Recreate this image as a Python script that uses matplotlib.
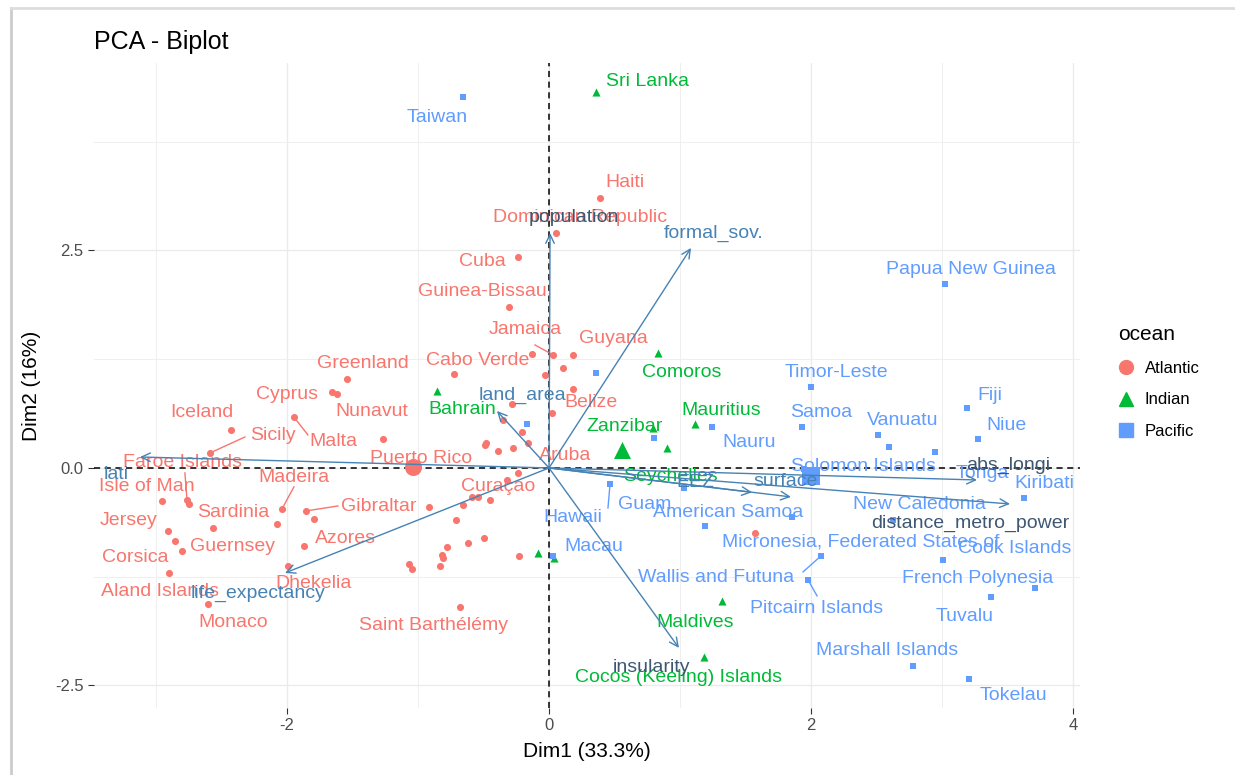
import matplotlib.pyplot as plt
import numpy as np
from matplotlib.lines import Line2D
from matplotlib.patches import FancyArrowPatch

plt.rcParams['font.family'] = ['Liberation Sans', 'DejaVu Sans']
plt.rcParams['axes.unicode_minus'] = False

#Individuals: (name, Dim1, Dim2), '' = unlabeled
atlantic = [
    ('Haiti', 0.389, 3.103), ('Dominican Republic', 0.053, 2.701), ('Cuba', -0.237, 2.425),
    ('Guinea-Bissau', -0.305, 1.851), ('Jamaica', 0.031, 1.299), ('', -0.130, 1.310),
    ('Guyana', 0.183, 1.299), ('', 0.107, 1.149), ('', -0.031, 1.069),
    ('Cabo Verde', -0.725, 1.080), ('Greenland', -1.542, 1.023), ('Cyprus', -1.656, 0.874),
    ('', -1.618, 0.851), ('Belize', 0.183, 0.908), ('', 0.023, 0.632),
    ('', -0.282, 0.736), ('', -0.351, 0.552), ('', -0.206, 0.414),
    ('', -0.160, 0.287), ('', -0.481, 0.287), ('', -0.489, 0.264),
    ('', -0.389, 0.195), ('', -0.275, 0.230), ('Puerto Rico', -1.053, 0.011),
    ('Nunavut', -1.267, 0.333), ('Aruba', -0.237, -0.057), ('Curaçao', -0.321, -0.138),
    ('', -0.542, -0.333), ('', -0.588, -0.333), ('', -0.450, -0.368),
    ('', -0.656, -0.425), ('', -0.916, -0.448), ('', -0.710, -0.598),
    ('', -0.496, -0.805), ('', -0.618, -0.862), ('', -0.779, -0.908),
    ('', -0.817, -1.000), ('', -0.809, -1.034), ('', -0.832, -1.126),
    ('', -1.069, -1.103), ('', -1.046, -1.161), ('', -0.229, -1.011),
    ('Saint Barthélémy', -0.679, -1.598), ('', 1.573, -0.747), ('Iceland', -2.427, 0.437),
    ('Sicily', -2.588, 0.172), ('Malta', -1.947, 0.586), ('Faroe Islands', -2.763, -0.368),
    ('', -2.748, -0.414), ('Isle of Man', -2.954, -0.379), ('Madeira', -2.038, -0.471),
    ('Sardinia', -2.565, -0.690), ('', -2.076, -0.644), ('Gibraltar', -1.855, -0.494),
    ('', -1.794, -0.586), ('Jersey', -2.908, -0.724), ('Guernsey', -2.855, -0.839),
    ('Corsica', -2.802, -0.954), ('Azores', -1.870, -0.897), ('Aland Islands', -2.901, -1.207),
    ('Dhekelia', -1.992, -1.126), ('Monaco', -2.603, -1.563),
]
indian = [
    ('Sri Lanka', 0.359, 4.322), ('Comoros', 0.832, 1.322), ('Bahrain', -0.855, 0.885),
    ('Mauritius', 1.115, 0.506), ('Zanzibar', 0.794, 0.460), ('Seychelles', 0.901, 0.230),
    ('Maldives', 1.321, -1.529), ('Cocos (Keeling) Islands', 1.183, -2.172),
    ('', -0.084, -0.977), ('', 0.038, -1.034),
]
pacific = [
    ('Taiwan', -0.656, 4.264), ('Papua New Guinea', 3.023, 2.115), ('Timor-Leste', 2.000, 0.931),
    ('', 0.359, 1.092), ('Samoa', 1.931, 0.471), ('Nauru', 1.244, 0.471),
    ('', 0.802, 0.345), ('', -0.168, 0.506), ('Vanuatu', 2.511, 0.379),
    ('', 2.595, 0.241), ('Tonga', 2.947, 0.184), ('Fiji', 3.191, 0.690),
    ('Niue', 3.275, 0.333), ('Solomon Islands', 1.947, -0.011), ('Kiribati', 3.626, -0.345),
    ('Guam', 0.466, -0.184), ('Hawaii', 1.031, -0.230), ('Micronesia, Federated States of', 1.855, -0.563),
    ('American Samoa', 1.191, -0.667), ('New Caledonia', 2.626, -0.598), ('Wallis and Futuna', 2.076, -1.011),
    ('Pitcairn Islands', 1.977, -1.287), ('Cook Islands', 3.008, -1.057), ('French Polynesia', 3.710, -1.379),
    ('Tuvalu', 3.374, -1.483), ('Marshall Islands', 2.779, -2.276), ('Tokelau', 3.206, -2.425),
    ('Macau', 0.031, -1.011),
]

#Variables: name, arrow tip
var_names = ['population', 'formal_sov.', 'land_area', 'lati', 'life_expectancy',
             'insularity', 'EEZ', 'surface', 'abs_longi', 'distance_metro_power']
var_x = [0.008, 1.084, -0.397, -3.122, -2.015, 0.992, 1.55, 1.847, 3.267, 3.519]
var_y = [2.701, 2.529, 0.655, 0.126, -1.207, -2.069, -0.28, -0.333, -0.138, -0.414]

x_ticks = [-2, 0, 2, 4]
x_tick_labels = ['-2', '0', '2', '4']
y_ticks = [-2.5, 0, 2.5]
y_tick_labels = ['-2.5', '0.0', '2.5']

#Label placement (repelled labels in the original)
label_pos = {
    'Haiti': (0.580, 3.276), 'Dominican Republic': (0.237, 2.874), 'Cuba': (-0.511, 2.379),
    'Guinea-Bissau': (-0.511, 2.023), 'Jamaica': (-0.183, 1.586), 'Guyana': (0.489, 1.483),
    'Cabo Verde': (-0.542, 1.230), 'Greenland': (-1.420, 1.195), 'Cyprus': (-2.0, 0.839),
    'Nunavut': (-1.351, 0.644), 'Iceland': (-2.649, 0.632), 'Sicily': (-2.107, 0.368),
    'Malta': (-1.649, 0.299), 'Belize': (0.321, 0.747), 'Puerto Rico': (-0.977, 0.103),
    'Faroe Islands': (-2.794, 0.057), 'Isle of Man': (-3.069, -0.218), 'Madeira': (-1.947, -0.115),
    'Sardinia': (-2.412, -0.517), 'Gibraltar': (-1.298, -0.448), 'Jersey': (-3.206, -0.609),
    'Guernsey': (-2.412, -0.908), 'Azores': (-1.557, -0.816), 'Corsica': (-3.160, -1.034),
    'Dhekelia': (-1.794, -1.333), 'Aland Islands': (-2.969, -1.425), 'Monaco': (-2.412, -1.782),
    'Saint Barthélémy': (-0.885, -1.816), 'Aruba': (0.122, 0.138), 'Curaçao': (-0.389, -0.218),
    'Sri Lanka': (0.748, 4.448), 'Comoros': (1.015, 1.092), 'Bahrain': (-0.664, 0.667),
    'Mauritius': (1.313, 0.655), 'Zanzibar': (0.580, 0.471), 'Seychelles': (0.924, -0.100),
    'Maldives': (1.115, -1.782), 'Cocos (Keeling) Islands': (0.992, -2.414),
    'Taiwan': (-0.855, 4.034), 'Papua New Guinea': (3.221, 2.287), 'Timor-Leste': (2.191, 1.092),
    'Samoa': (2.076, 0.632), 'Nauru': (1.527, 0.287), 'Vanuatu': (2.702, 0.540),
    'Fiji': (3.366, 0.828), 'Niue': (3.489, 0.483), 'Solomon Islands': (2.397, 0.011),
    'Tonga': (3.305, -0.069), 'Kiribati': (3.779, -0.184), 'Guam': (0.733, -0.425),
    'Hawaii': (0.183, -0.575), 'American Samoa': (1.366, -0.517), 'New Caledonia': (2.824, -0.425),
    'Micronesia, Federated States of': (2.382, -0.851), 'Cook Islands': (3.557, -0.931),
    'Macau': (0.344, -0.908), 'Wallis and Futuna': (1.275, -1.264), 'French Polynesia': (3.275, -1.276),
    'Pitcairn Islands': (2.046, -1.621), 'Tuvalu': (3.176, -1.713), 'Marshall Islands': (2.580, -2.103),
    'Tokelau': (3.542, -2.621),
}
seg_end = {
    'Sicily': (-2.321, 0.356), 'Malta': (-1.840, 0.379), 'Madeira': (-1.947, -0.218),
    'Gibraltar': (-1.611, -0.437), 'Faroe Islands': (-2.779, -0.057), 'Jamaica': (-0.107, 1.414),
    'Guam': (0.450, -0.460), 'Wallis and Futuna': (1.939, -1.195), 'Pitcairn Islands': (2.046, -1.471),
}
var_label_pos = {
    'population': (0.191, 2.874), 'formal_sov.': (1.260, 2.701), 'land_area': (-0.206, 0.839),
    'lati': (-3.305, -0.080), 'life_expectancy': (-2.221, -1.437), 'insularity': (0.786, -2.299),
    'EEZ': (1.12, -0.172), 'surface': (1.809, -0.161), 'abs_longi': (3.504, 0.034),
    'distance_metro_power': (3.214, -0.632),
}
dark_vars = ['population', 'insularity', 'abs_longi', 'distance_metro_power']

groups = [('Atlantic', atlantic, '#F8766D', 'o', 26),
          ('Indian', indian, '#00BA38', '^', 34),
          ('Pacific', pacific, '#619CFF', 's', 24)]

fig = plt.figure(figsize=(12.35, 7.75), dpi=100)
ax = fig.add_axes([0.0761, 0.0865, 0.7984, 0.8322])

ax.set_xlim(-3.473, 4.053)
ax.set_ylim(-2.759, 4.655)
ax.set_xticks(x_ticks)
ax.set_xticklabels(x_tick_labels)
ax.set_yticks(y_ticks)
ax.set_yticklabels(y_tick_labels)
ax.set_xticks([-3, -1, 1, 3], minor=True)
ax.set_yticks([-1.25, 1.25, 3.75], minor=True)
ax.grid(which='major', color='#EBEBEB', lw=1.0)
ax.grid(which='minor', color='#EFEFEF', lw=0.7)
ax.set_axisbelow(True)
for s in ax.spines.values():
    s.set_visible(False)
ax.tick_params(which='major', length=4, color='#333333', labelsize=12, labelcolor='#4D4D4D')
ax.tick_params(which='minor', length=0)

ax.axhline(0, color='black', lw=1.1, ls=(0, (4, 3)), zorder=2)
ax.axvline(0, color='black', lw=1.1, ls=(0, (4, 3)), zorder=2)

for gname, rows, col, mk, sz in groups:
    xs = np.array([r[1] for r in rows])
    ys = np.array([r[2] for r in rows])
    ax.scatter(xs, ys, s=sz, marker=mk, color=col, lw=0, zorder=3)
    #group mean point
    ax.scatter([xs.mean()], [ys.mean()], s=150, marker=mk, color=col, lw=0, zorder=3)
    for name, x, y in rows:
        if not name:
            continue
        lx, ly = label_pos[name]
        if name in seg_end:
            ex, ey = seg_end[name]
            ax.plot([x, ex], [y, ey], color=col, lw=1, zorder=3)
        ax.text(lx, ly, name, color=col, fontsize=14, ha='center', va='center', zorder=4)

#Variable arrows
for name, vx, vy in zip(var_names, var_x, var_y):
    arr = FancyArrowPatch((0, 0), (vx, vy), arrowstyle='->,head_length=0.45,head_width=0.22',
                          mutation_scale=14, color='#4682B4', lw=1.0, zorder=5, shrinkA=0, shrinkB=0)
    ax.add_patch(arr)
    lx, ly = var_label_pos[name]
    tc = '#3E5873' if name in dark_vars else '#4682B4'
    ax.text(lx, ly, name, color=tc, fontsize=14, ha='center', va='center', zorder=6)

ax.set_xlabel('Dim1 (33.3%)', fontsize=15, labelpad=6)
ax.set_ylabel('Dim2 (16%)', fontsize=15, labelpad=10)
ax.set_title('PCA - Biplot', loc='left', fontsize=18, pad=10)

handles = [Line2D([], [], marker=mk, color=col, ls='none', markersize=10, label=gname)
           for gname, rows, col, mk, sz in groups]
leg = fig.legend(handles=handles, title='ocean', loc='upper left', bbox_to_anchor=(0.893, 0.6),
                 frameon=False, fontsize=12, title_fontsize=15, handlelength=1.0,
                 handletextpad=0.6, labelspacing=1.0)
leg._legend_box.align = 'left'

#screenshot frame
fig.add_artist(Line2D([0.009, 0.009], [0, 0.99], color='#CCCCCC', lw=2, transform=fig.transFigure))
fig.add_artist(Line2D([0.009, 1], [0.99, 0.99], color='#DDDDDD', lw=2, transform=fig.transFigure))

fig.savefig('out.png', dpi=100)
